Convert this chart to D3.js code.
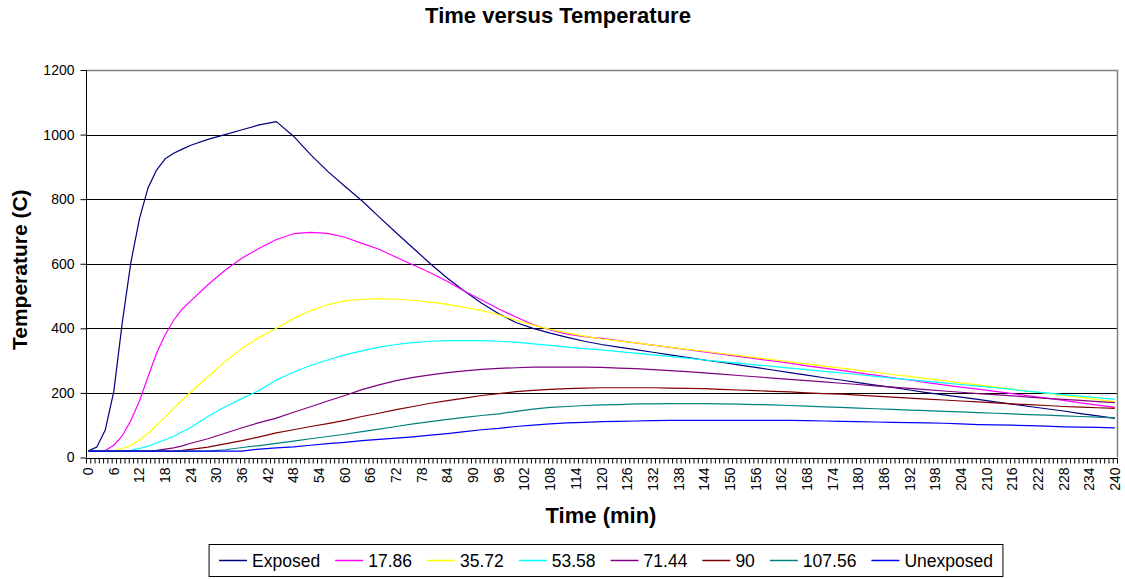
<!DOCTYPE html>
<html>
<head>
<meta charset="utf-8">
<script src="https://cdn.jsdelivr.net/npm/d3@7"></script>
<style>
  html, body { margin: 0; padding: 0; background: #fff; }
  svg { display: block; font-family: "Liberation Sans", Arial, sans-serif; }
</style>
</head>
<body>
<svg id="chart" width="1125" height="579"></svg>
<script>
// Sample times (min) at which each curve is recorded
const times = [0, 2, 4, 6, 8, 10, 12, 14, 16, 18, 20, 22, 24, 28, 32, 36, 40, 44, 48, 52,
  56, 60, 64, 68, 72, 76, 80, 84, 88, 92, 96, 100, 104, 108, 112, 116, 120, 124, 128, 132,
  136, 140, 144, 148, 152, 156, 160, 164, 168, 172, 176, 180, 184, 188, 192, 196, 200, 204, 208, 212,
  216, 220, 224, 228, 232, 236, 240];

// Temperatures (C) at each depth
const exposed = [20, 32, 85, 205, 420, 605, 740, 835, 890, 925, 942, 955, 967, 985, 1000, 1015, 1030, 1040, 995, 938,
  886, 840, 795, 745, 696, 648, 600, 555, 515, 478, 445, 418, 400, 385, 372, 360, 350, 342, 334, 326,
  318, 310, 302, 295, 287, 279, 271, 263, 255, 247, 240, 232, 224, 217, 209, 201, 194, 187, 180, 172,
  165, 158, 151, 144, 136, 129, 121];
const d1786 = [20, 20, 22, 38, 68, 115, 175, 250, 323, 380, 425, 460, 485, 535, 580, 618, 648, 675, 693, 697,
  694, 682, 663, 645, 620, 596, 572, 545, 515, 488, 460, 435, 412, 395, 382, 374, 369, 362, 355, 348,
  341, 334, 327, 320, 313, 306, 299, 292, 284, 277, 270, 262, 255, 247, 240, 232, 225, 218, 212, 205,
  198, 191, 184, 177, 169, 162, 155];
const d3572 = [20, 20, 20, 21, 28, 38, 54, 75, 100, 125, 152, 178, 203, 250, 297, 338, 372, 400, 430, 455,
  473, 485, 490, 492, 490, 487, 481, 474, 465, 455, 442, 425, 410, 397, 386, 376, 367, 361, 355, 348,
  342, 335, 329, 322, 316, 309, 303, 296, 290, 283, 277, 270, 264, 257, 251, 244, 238, 231, 225, 218,
  212, 205, 199, 192, 186, 179, 173];
const d5358 = [20, 20, 20, 20, 20, 22, 28, 35, 45, 55, 66, 80, 93, 127, 157, 183, 208, 240, 264, 285,
  302, 318, 330, 342, 350, 356, 360, 362, 362, 362, 360, 357, 352, 347, 342, 337, 333, 328, 323, 318,
  313, 308, 302, 297, 292, 287, 282, 277, 272, 267, 262, 257, 251, 246, 241, 236, 231, 226, 221, 216,
  211, 205, 200, 195, 190, 185, 180];
const d7144 = [20, 20, 20, 20, 20, 20, 20, 20, 22, 26, 30, 36, 44, 58, 75, 92, 108, 122, 140, 157,
  175, 192, 210, 225, 238, 248, 256, 263, 268, 273, 276, 278, 280, 280, 280, 280, 279, 277, 275, 272,
  269, 266, 262, 258, 254, 250, 246, 242, 238, 234, 230, 226, 222, 218, 214, 210, 206, 202, 198, 195,
  191, 187, 183, 180, 177, 173, 170];
const d90 = [20, 20, 20, 20, 20, 20, 20, 20, 20, 20, 20, 22, 25, 32, 42, 52, 64, 76, 86, 96,
  105, 115, 127, 137, 148, 158, 168, 176, 184, 192, 198, 204, 208, 211, 213, 215, 216, 216, 216, 216,
  215, 214, 213, 211, 209, 207, 205, 203, 200, 198, 196, 193, 190, 187, 184, 181, 178, 175, 172, 169,
  166, 164, 161, 158, 156, 154, 152];
const d10756 = [20, 20, 20, 20, 20, 20, 20, 20, 20, 20, 20, 20, 20, 20, 24, 31, 37, 44, 51, 58,
  65, 72, 80, 88, 96, 104, 111, 118, 124, 130, 135, 143, 150, 155, 158, 161, 163, 164, 166, 166,
  167, 167, 167, 166, 165, 164, 163, 161, 159, 157, 155, 153, 151, 149, 147, 145, 143, 141, 139, 137,
  135, 133, 131, 129, 127, 125, 123];
const unexposed = [20, 20, 20, 20, 20, 20, 20, 20, 20, 20, 20, 20, 20, 20, 20, 20, 26, 30, 33, 38,
  43, 47, 52, 56, 60, 64, 69, 74, 80, 86, 90, 96, 100, 104, 107, 109, 111, 112, 113, 114,
  115, 115, 115, 115, 115, 115, 115, 115, 114, 113, 112, 111, 110, 109, 108, 107, 106, 104, 102, 101,
  100, 99, 97, 95, 94, 93, 92];

const seriesNames = ["Exposed", "17.86", "35.72", "53.58", "71.44", "90", "107.56", "Unexposed"];
const seriesValues = [exposed, d1786, d3572, d5358, d7144, d90, d10756, unexposed];
const seriesColors = ["#000080", "#FF00FF", "#FFFF00", "#00FFFF", "#800080", "#800000", "#008080", "#0000FF"];

// Category axis: one category per minute, labelled every 6 minutes
const categories = d3.range(0, 241);
const xTickLabels = [0, 6, 12, 18, 24, 30, 36, 42, 48, 54, 60, 66, 72, 78, 84, 90, 96, 102, 108, 114,
  120, 126, 132, 138, 144, 150, 156, 162, 168, 174, 180, 186, 192, 198, 204, 210, 216, 222, 228, 234, 240];
const yTickLabels = [0, 200, 400, 600, 800, 1000, 1200];

const plot = { left: 86, right: 1117, top: 70, bottom: 457.5 };
const svg = d3.select("#chart");

const x = d3.scaleBand().domain(categories).range([plot.left, plot.right]).paddingInner(0).paddingOuter(0);
const xc = d => x(d) + x.bandwidth() / 2;
const y = d3.scaleLinear().domain([0, 1200]).range([plot.bottom, plot.top]);

// Horizontal gridlines
svg.append("g")
  .selectAll("line")
  .data(yTickLabels.filter(v => v > 0 && v < 1200))
  .join("line")
  .attr("x1", plot.left).attr("x2", plot.right)
  .attr("y1", d => Math.round(y(d)) + 0.5).attr("y2", d => Math.round(y(d)) + 0.5)
  .attr("stroke", "#000").attr("stroke-width", 1);

// Plot-area border on top and right
svg.append("path")
  .attr("d", `M${plot.left},${Math.round(plot.top) + 0.5}H${plot.right + 0.5}V${plot.bottom}`)
  .attr("fill", "none").attr("stroke", "#808080").attr("stroke-width", 1.5);

// Series lines
const line = d3.line()
  .x((d, i) => xc(times[i]))
  .y(d => y(d));

svg.append("g")
  .selectAll("path")
  .data(seriesValues)
  .join("path")
  .attr("d", d => line(d))
  .attr("fill", "none")
  .attr("stroke", (d, i) => seriesColors[i])
  .attr("stroke-width", 1.2)
  .attr("stroke-linejoin", "round");

// Y axis
const yAxis = d3.axisLeft(y).tickValues(yTickLabels).tickSize(6).tickPadding(6).tickFormat(d3.format("d"));
const gy = svg.append("g").attr("transform", `translate(${plot.left + 0.5},0)`).call(yAxis);
gy.select(".domain").attr("stroke", "#000").attr("d", `M0,${plot.top}V${plot.bottom}`);
gy.selectAll(".tick line").attr("stroke", "#000");
gy.selectAll(".tick text").attr("font-size", 14).attr("fill", "#000")
  .attr("font-family", "'Liberation Sans', Arial, sans-serif");

// X axis: tick marks on category boundaries
const gx = svg.append("g").attr("transform", `translate(0,${Math.round(plot.bottom) + 0.5})`);
gx.append("line").attr("x1", plot.left).attr("x2", plot.right + 0.5).attr("stroke", "#000");
gx.selectAll("line.tk")
  .data(categories.concat([241]))
  .join("line").attr("class", "tk")
  .attr("x1", d => (d < 241 ? x(d) : plot.right) + 0.5)
  .attr("x2", d => (d < 241 ? x(d) : plot.right) + 0.5)
  .attr("y1", 0).attr("y2", 5)
  .attr("stroke", "#000");

// X labels, rotated, centred on their categories
gx.selectAll("text.lbl")
  .data(xTickLabels)
  .join("text").attr("class", "lbl")
  .attr("transform", d => `translate(${xc(d) + 5},9) rotate(-90)`)
  .attr("text-anchor", "end")
  .attr("font-size", 14)
  .text(d => d);

// Titles
svg.append("text")
  .attr("x", 558).attr("y", 23)
  .attr("text-anchor", "middle")
  .attr("font-size", 22).attr("font-weight", "bold")
  .text("Time versus Temperature");

svg.append("text")
  .attr("transform", `translate(27,${(plot.top + plot.bottom) / 2 + 6}) rotate(-90)`)
  .attr("text-anchor", "middle")
  .attr("font-size", 21).attr("font-weight", "bold")
  .text("Temperature (C)");

svg.append("text")
  .attr("x", 601).attr("y", 523)
  .attr("text-anchor", "middle")
  .attr("font-size", 22).attr("font-weight", "bold")
  .text("Time (min)");

// Legend
const legend = svg.append("g");
const legendFont = 17.5, sampleLen = 28, sampleGap = 5, itemGap = 15;
let cx = 0;
const items = [];
seriesNames.forEach((name, i) => {
  const t = legend.append("text").attr("font-size", legendFont).attr("y", 567).text(name);
  const w = t.node().getComputedTextLength();
  items.push({ t, w, start: cx, i });
  cx += sampleLen + sampleGap + w + itemGap;
});
const totalW = cx - itemGap;
const legendLeft = 606 - totalW / 2;
items.forEach(it => {
  const sx = legendLeft + it.start;
  legend.append("line")
    .attr("x1", sx).attr("x2", sx + sampleLen)
    .attr("y1", 560.5).attr("y2", 560.5)
    .attr("stroke", seriesColors[it.i]).attr("stroke-width", 1.5);
  it.t.attr("x", sx + sampleLen + sampleGap);
});
legend.insert("rect", ":first-child")
  .attr("x", legendLeft - 10).attr("y", 544.5)
  .attr("width", totalW + 20).attr("height", 32)
  .attr("fill", "#fff").attr("stroke", "#000").attr("stroke-width", 1);
</script>
</body>
</html>
